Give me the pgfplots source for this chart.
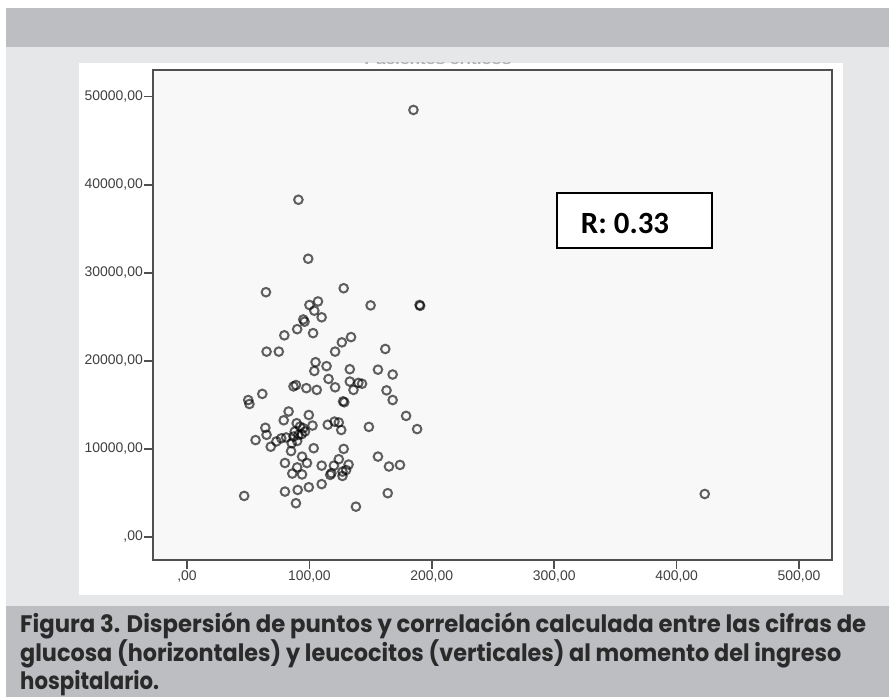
\documentclass[border=0pt]{standalone}
\usepackage{fontspec}
\setmainfont{Liberation Sans}
\newfontfamily\capfont{Poppins}
\newfontfamily\rfont{Carlito}
\usepackage{graphicx}
\usepackage{pgfplots}
\pgfplotsset{compat=1.18}
\usepackage{pgfplotstable}
\definecolor{bandgrey}{HTML}{BDBEC2}
\definecolor{panelgrey}{HTML}{E6E7E9}
\definecolor{plotbg}{HTML}{F8F8F8}
\definecolor{axisgrey}{HTML}{505050}
\definecolor{ticktext}{HTML}{404040}
\definecolor{captext}{HTML}{2A2A2A}
\pgfplotstableread{
glu leu
185 48500
91 38300
99 31600
64.5 27800
128 28250
150 26300
190 26350
190.5 26250
100 26350
107 26750
104 25700
110 24950
95 24700
96 24450
90 23600
103 23150
79.5 22900
134 22700
126.5 22100
121 21050
65 21050
75 21050
162 21350
105 19850
114 19400
104 18850
133 19050
156 19000
168 18450
115.6 17950
133 17650
140 17500
143 17400
136 16700
87 17100
89 17250
97.5 16900
106 16700
121 17000
163 16650
168 15550
61.5 16250
50 15550
51 15100
127.5 15400
128.5 15300
83 14250
99.5 13850
79 13250
102.5 12650
115 12750
120.5 13100
124 13000
126 12150
148.6 12500
179 13750
188 12250
64 12400
65 11600
56 11000
68.4 10250
73 10850
77 11200
81 11300
89.6 12920
92.3 12530
95 12350
88 11970
91 11590
87 11400
93.7 11670
85.5 10650
96.4 11970
90 10900
85 9750
103.5 10080
128 10000
94 9125
80 8400
98 8400
90 7900
86 7200
94 7100
110 8100
120 8100
124 8830
132 8220
118 7240
127 7420
127 6930
130 7600
117 7050
156 9125
165 8000
174 8180
110 6000
99.5 5650
90.4 5340
80 5150
46.7 4660
89 3830
164 4970
138 3440
423 4880
}\datatable
\begin{document}
\begin{tikzpicture}[x=1bp,y=1bp]
\useasboundingbox (0,0) rectangle (889,697);
\fill[white] (0,0) rectangle (889,697);
\fill[bandgrey] (6,650) rectangle (889,689);
\fill[panelgrey] (6,91) rectangle (889,650);
\fill[white] (79,102) rectangle (843,634);
\fill[bandgrey] (6,0) rectangle (889,91);
\begin{scope}
\clip (360,631) rectangle (520,634.5);
\node[anchor=base, inner sep=0, text=black!30] at (438,632) {\resizebox{147bp}{\height}{\fontsize{14}{16}\selectfont\bfseries Pacientes críticos}};
\end{scope}
\begin{axis}[
  at={(153bp,137bp)}, anchor=south west,
  scale only axis, width=679bp, height=490bp,
  xmin=-27.8, xmax=527, ymin=-2618, ymax=53040,
  axis background/.style={fill=plotbg},
  axis line style={axisgrey, line width=1.5bp},
  tick style={axisgrey, line width=1.5bp},
  tick align=outside, major tick length=9bp, tick pos=left,
  xtick={0,100,200,300,400,500},
  xticklabels={{,00},{100,00},{200,00},{300,00},{400,00},{500,00}},
  ytick={0,10000,20000,30000,40000,50000},
  yticklabels={{,00},{10000,00},{20000,00},{30000,00},{40000,00},{50000,00}},
  scaled ticks=false,
  ticklabel style={font=\fontsize{14}{16}\selectfont, text=ticktext},
  yticklabel style={inner sep=1bp},
  xticklabel style={inner sep=2bp},
]
\addplot[only marks, mark=o, mark size=4.3bp,
  mark options={line width=2bp, draw=black, draw opacity=0.62}]
  table[x=glu, y=leu] {\datatable};
\end{axis}
\draw[black, line width=2bp, fill=white] (557,449) rectangle (712,504);
\node[anchor=center, inner sep=0] at (625,474) {\rfont\bfseries\fontsize{31}{34}\selectfont R: 0.33};
\node[anchor=base west, inner sep=0, text=captext] at (20,64) {\resizebox{846bp}{\height}{\capfont\bfseries\fontsize{24}{26}\selectfont Figura 3. Dispersión de puntos y correlación calculada entre las cifras de}};
\node[anchor=base west, inner sep=0, text=captext] at (20,35) {\resizebox{821bp}{\height}{\capfont\bfseries\fontsize{24}{26}\selectfont glucosa (horizontales) y leucocitos (verticales) al momento del ingreso}};
\node[anchor=base west, inner sep=0, text=captext] at (20,7) {\resizebox{139bp}{\height}{\capfont\bfseries\fontsize{24}{26}\selectfont hospitalario.}};
\end{tikzpicture}
\end{document}
